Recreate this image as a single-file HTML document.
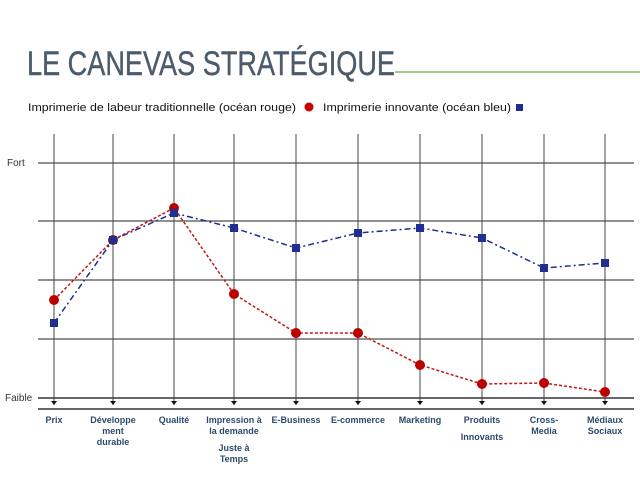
<!DOCTYPE html>
<html><head><meta charset="utf-8"><style>
body{margin:0;background:#fff;width:640px;height:480px;overflow:hidden;font-family:"Liberation Sans",sans-serif}
</style></head><body>
<svg width="640" height="480" xmlns="http://www.w3.org/2000/svg" font-family="Liberation Sans, sans-serif">
<text x="27" y="75" font-size="34" fill="#4d5b6a" stroke="#4d5b6a" stroke-width="0.4" textLength="368" lengthAdjust="spacingAndGlyphs">LE CANEVAS STRATÉGIQUE</text>
<line x1="395" y1="72" x2="640" y2="72" stroke="#9bcf7d" stroke-width="2"/>
<text x="28" y="111" font-size="11" fill="#111" textLength="268" lengthAdjust="spacingAndGlyphs">Imprimerie de labeur traditionnelle (océan rouge)</text>
<circle cx="309" cy="107" r="4.5" fill="#c00"/>
<text x="323" y="111" font-size="11" fill="#111" textLength="188" lengthAdjust="spacingAndGlyphs">Imprimerie innovante (océan bleu)</text>
<rect x="516" y="104" width="7" height="7" fill="#1f2f8f"/>
<g stroke="#222" stroke-width="1">
<line x1="38" y1="163" x2="634" y2="163"/>
<line x1="38" y1="221" x2="634" y2="221"/>
<line x1="38" y1="280" x2="634" y2="280"/>
<line x1="38" y1="339" x2="634" y2="339"/>
<line x1="38" y1="398" x2="634" y2="398" stroke="#666" stroke-width="2"/>
<line x1="38" y1="409" x2="634" y2="409" stroke="#666" stroke-width="2"/>
</g>
<g stroke="#444" stroke-width="1">
<line x1="54" y1="134" x2="54" y2="405"/><line x1="113" y1="134" x2="113" y2="405"/><line x1="174" y1="134" x2="174" y2="405"/><line x1="234" y1="134" x2="234" y2="405"/><line x1="296" y1="134" x2="296" y2="405"/><line x1="358" y1="134" x2="358" y2="405"/><line x1="420" y1="134" x2="420" y2="405"/><line x1="482" y1="134" x2="482" y2="405"/><line x1="544" y1="134" x2="544" y2="405"/><line x1="605" y1="134" x2="605" y2="405"/>
</g>
<g fill="#111">
<path d="M51 401h6l-3 4z"/><path d="M110 401h6l-3 4z"/><path d="M171 401h6l-3 4z"/><path d="M231 401h6l-3 4z"/><path d="M293 401h6l-3 4z"/><path d="M355 401h6l-3 4z"/><path d="M417 401h6l-3 4z"/><path d="M479 401h6l-3 4z"/><path d="M541 401h6l-3 4z"/><path d="M602 401h6l-3 4z"/>
</g>
<text x="7" y="166" font-size="10" fill="#333">Fort</text>
<text x="5" y="401" font-size="10" fill="#333">Faible</text>
<polyline points="54,323 113,240 174,213 234,228 296,248 358,233 420,228 482,238 544,268 605,263" fill="none" stroke="#1f2f8f" stroke-width="1.5" stroke-dasharray="6,3,2,3"/>
<polyline points="54,300 113,240 174,208 234,294 296,333 358,333 420,365 482,384 544,383 605,392" fill="none" stroke="#c01818" stroke-width="1.5" stroke-dasharray="3,2"/>
<g fill="#b00">
<circle cx="54" cy="300" r="5"/><circle cx="113" cy="240" r="5"/><circle cx="174" cy="208" r="5"/><circle cx="234" cy="294" r="5"/><circle cx="296" cy="333" r="5"/><circle cx="358" cy="333" r="5"/><circle cx="420" cy="365" r="5"/><circle cx="482" cy="384" r="5"/><circle cx="544" cy="383" r="5"/><circle cx="605" cy="392" r="5"/>
</g>
<g fill="#1f2f8f">
<rect x="50" y="319" width="8" height="8"/><rect x="109" y="236" width="8" height="8"/><rect x="170" y="209" width="8" height="8"/><rect x="230" y="224" width="8" height="8"/><rect x="292" y="244" width="8" height="8"/><rect x="354" y="229" width="8" height="8"/><rect x="416" y="224" width="8" height="8"/><rect x="478" y="234" width="8" height="8"/><rect x="540" y="264" width="8" height="8"/><rect x="601" y="259" width="8" height="8"/>
</g>
<g font-size="9" font-weight="bold" fill="#2c4a6e" text-anchor="middle">
<text x="54" y="423">Prix</text>
<text x="113" y="423">Développe</text><text x="113" y="434">ment</text><text x="113" y="445">durable</text>
<text x="174" y="423">Qualité</text>
<text x="234" y="423">Impression à</text><text x="234" y="434">la demande</text><text x="234" y="451">Juste à</text><text x="234" y="462">Temps</text>
<text x="296" y="423">E-Business</text>
<text x="358" y="423">E-commerce</text>
<text x="420" y="423">Marketing</text>
<text x="482" y="423">Produits</text><text x="482" y="440">Innovants</text>
<text x="544" y="423">Cross-</text><text x="544" y="434">Media</text>
<text x="605" y="423">Médiaux</text><text x="605" y="434">Sociaux</text>
</g>
</svg>
</body></html>
